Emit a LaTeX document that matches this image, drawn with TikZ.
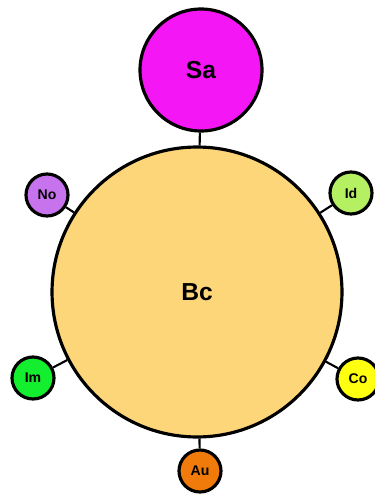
\documentclass[tikz,border=0pt]{standalone}
\usepackage{fontspec}
\setmainfont{Liberation Sans}
\definecolor{saC}{HTML}{F516F5}
\definecolor{bcC}{HTML}{FDD67A}
\definecolor{noC}{HTML}{C873EE}
\definecolor{idC}{HTML}{B4F062}
\definecolor{imC}{HTML}{13EE2E}
\definecolor{coC}{HTML}{FFFF10}
\definecolor{auC}{HTML}{F07A0A}
\begin{document}
\begin{tikzpicture}[x=0.02cm,y=-0.02cm,
  ball/.style={circle,draw=black,line width=1.8pt,inner sep=0pt,font=\bfseries},
  small/.style={ball,minimum size=0.84cm,font=\bfseries\fontsize{8}{9}\selectfont},
  link/.style={line width=1.2pt}]
\useasboundingbox (0,0) rectangle (375,497);
\node[ball,fill=bcC,minimum size=5.8cm,font=\bfseries\fontsize{14}{16}\selectfont] (Bc) at (197,292) {Bc};
\node[ball,fill=saC,minimum size=2.44cm,font=\bfseries\fontsize{14}{16}\selectfont] (Sa) at (201,70) {Sa};
\node[small,fill=noC] (No) at (47,195) {No};
\node[small,fill=idC] (Id) at (351,193) {Id};
\node[small,fill=imC] (Im) at (33,378) {Im};
\node[small,fill=coC] (Co) at (358,379) {Co};
\node[small,fill=auC] (Au) at (200,471) {Au};
\draw[link] (Sa) -- (Bc);
\draw[link] (No) -- (Bc);
\draw[link] (Id) -- (Bc);
\draw[link] (Im) -- (Bc);
\draw[link] (Co) -- (Bc);
\draw[link] (Au) -- (Bc);
\end{tikzpicture}
\end{document}
